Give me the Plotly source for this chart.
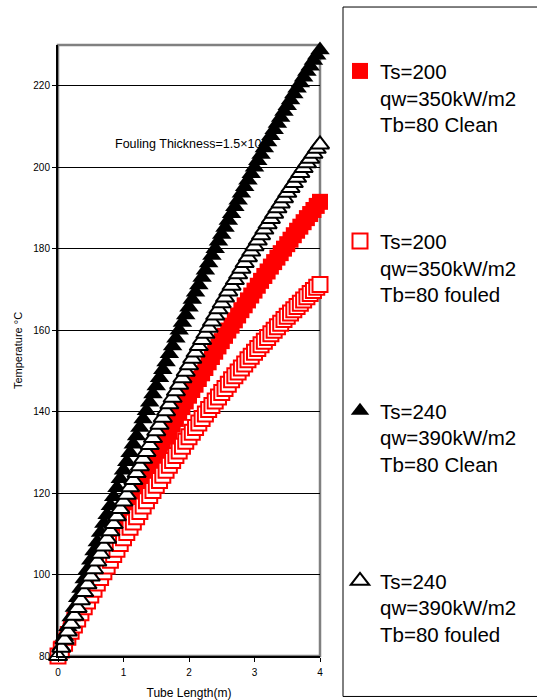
import plotly.graph_objects as go

# Tube length positions (m), 0 to 4 in 0.05 m steps
tube_length = [round(i * 0.05, 2) for i in range(81)]

ts200_clean = [80.0, 81.8, 83.6, 85.4, 87.1, 88.9, 90.6, 92.4, 94.1, 95.8,
               97.5, 99.2, 100.9, 102.5, 104.2, 105.9, 107.5, 109.1, 110.8, 112.4,
               114.0, 115.6, 117.1, 118.7, 120.3, 121.8, 123.4, 124.9, 126.4, 127.9,
               129.4, 130.9, 132.4, 133.9, 135.3, 136.8, 138.2, 139.7, 141.1, 142.5,
               143.9, 145.3, 146.6, 148.0, 149.4, 150.7, 152.1, 153.4, 154.7, 156.0,
               157.3, 158.6, 159.9, 161.1, 162.4, 163.6, 164.9, 166.1, 167.3, 168.5,
               169.7, 170.9, 172.1, 173.3, 174.4, 175.6, 176.7, 177.8, 178.9, 180.0,
               181.1, 182.2, 183.3, 184.4, 185.4, 186.5, 187.5, 188.5, 189.5, 190.5,
               191.5]

ts200_fouled = [80.0, 81.5, 83.1, 84.6, 86.1, 87.6, 89.1, 90.6, 92.1, 93.5,
                95.0, 96.4, 97.9, 99.3, 100.7, 102.1, 103.5, 104.9, 106.2, 107.6,
                109.0, 110.3, 111.6, 112.9, 114.2, 115.5, 116.8, 118.1, 119.4, 120.6,
                121.9, 123.1, 124.4, 125.6, 126.8, 128.0, 129.2, 130.3, 131.5, 132.7,
                133.8, 134.9, 136.1, 137.2, 138.3, 139.4, 140.5, 141.5, 142.6, 143.6,
                144.7, 145.7, 146.7, 147.8, 148.8, 149.7, 150.7, 151.7, 152.7, 153.6,
                154.6, 155.5, 156.4, 157.3, 158.2, 159.1, 160.0, 160.8, 161.7, 162.6,
                163.4, 164.2, 165.0, 165.8, 166.6, 167.4, 168.2, 169.0, 169.7, 170.5,
                171.2]

ts240_clean = [80.0, 82.4, 84.8, 87.2, 89.6, 91.9, 94.3, 96.6, 98.9, 101.2,
               103.5, 105.8, 108.0, 110.3, 112.5, 114.7, 116.9, 119.1, 121.3, 123.5,
               125.6, 127.7, 129.9, 132.0, 134.0, 136.1, 138.2, 140.2, 142.3, 144.3,
               146.3, 148.3, 150.3, 152.2, 154.2, 156.1, 158.0, 160.0, 161.9, 163.7,
               165.6, 167.5, 169.3, 171.1, 172.9, 174.7, 176.5, 178.3, 180.0, 181.8,
               183.5, 185.2, 186.9, 188.6, 190.3, 191.9, 193.6, 195.2, 196.8, 198.4,
               200.0, 201.6, 203.1, 204.7, 206.2, 207.7, 209.2, 210.7, 212.2, 213.7,
               215.1, 216.5, 218.0, 219.4, 220.7, 222.1, 223.5, 224.8, 226.2, 227.5,
               228.8]

ts240_fouled = [80.0, 82.0, 84.0, 86.0, 87.9, 89.9, 91.8, 93.7, 95.7, 97.6,
                99.5, 101.3, 103.2, 105.1, 106.9, 108.8, 110.6, 112.4, 114.3, 116.1,
                117.9, 119.6, 121.4, 123.2, 124.9, 126.6, 128.4, 130.1, 131.8, 133.5,
                135.2, 136.8, 138.5, 140.1, 141.8, 143.4, 145.0, 146.6, 148.2, 149.8,
                151.4, 153.0, 154.5, 156.1, 157.6, 159.1, 160.6, 162.1, 163.6, 165.1,
                166.6, 168.0, 169.5, 170.9, 172.3, 173.7, 175.1, 176.5, 177.9, 179.3,
                180.6, 182.0, 183.3, 184.7, 186.0, 187.3, 188.6, 189.9, 191.1, 192.4,
                193.7, 194.9, 196.1, 197.4, 198.6, 199.8, 201.0, 202.1, 203.3, 204.5,
                205.6]

series_names = [
    "Ts=200<br>qw=350kW/m2<br>Tb=80 Clean",
    "Ts=200<br>qw=350kW/m2<br>Tb=80 fouled",
    "Ts=240<br>qw=390kW/m2<br>Tb=80 Clean",
    "Ts=240<br>qw=390kW/m2<br>Tb=80 fouled",
]

x_ticks = [0, 1, 2, 3, 4]
y_ticks = [80, 100, 120, 140, 160, 180, 200, 220]

FONT = "Arial, 'Liberation Sans', sans-serif"

fig = go.Figure()

fig.add_trace(go.Scatter(
    x=tube_length, y=ts200_clean, mode="markers", name=series_names[0],
    legendgroup="a", cliponaxis=False,
    marker=dict(symbol="square", size=16, color="#ff0000", line=dict(width=0)),
))
fig.add_trace(go.Scatter(
    x=tube_length, y=ts200_fouled, mode="markers", name=series_names[1],
    legendgroup="b", cliponaxis=False,
    marker=dict(symbol="square", size=15, color="#ffffff",
                line=dict(width=2, color="#ff0000")),
))
fig.add_trace(go.Scatter(
    x=tube_length, y=ts240_clean, mode="markers", name=series_names[2],
    legendgroup="c", cliponaxis=False,
    marker=dict(symbol="triangle-up", size=17, color="#000000", line=dict(width=0)),
))
fig.add_trace(go.Scatter(
    x=tube_length, y=ts240_fouled, mode="markers", name=series_names[3],
    legendgroup="d", cliponaxis=False,
    marker=dict(symbol="triangle-up", size=16, color="#ffffff",
                line=dict(width=2, color="#000000")),
))

# plot frame (grey top/right) and legend box
fig.add_shape(type="rect", xref="paper", yref="paper", x0=0, x1=1, y0=0, y1=1,
              line=dict(color="#808080", width=2.5), layer="below")
fig.add_shape(type="rect", xref="paper", yref="paper",
              x0=(343 - 58) / 262, x1=(545 - 58) / 262,
              y0=(656.5 - 697) / 611.5, y1=(656.5 - 7) / 611.5,
              line=dict(color="#000000", width=1), layer="below")

fig.add_annotation(
    x=0.84, y=206, xref="x", yref="y", xanchor="left", yanchor="middle",
    text="Fouling Thickness=1.5×10<sup>-5</sup>", showarrow=False,
    font=dict(family=FONT, size=12.5, color="#000000"),
)

fig.update_layout(
    width=537, height=700,
    margin=dict(l=58, r=217, t=45, b=43.5, autoexpand=False),
    paper_bgcolor="white", plot_bgcolor="white",
    font=dict(family=FONT, color="#000000"),
    showlegend=True,
    legend=dict(
        x=(340 - 58) / 262, xanchor="left",
        y=0.990, yanchor="top",
        bgcolor="rgba(0,0,0,0)", borderwidth=0,
        font=dict(family=FONT, size=20.5, color="#000000"),
        tracegroupgap=87, valign="top", maxheight=690,
    ),
    xaxis=dict(
        range=[0, 4], tickvals=x_ticks, ticks="outside", ticklen=4,
        tickcolor="#000000", showgrid=False, zeroline=False,
        showline=True, linecolor="#000000", linewidth=2,
        ticklabelstandoff=2, automargin=False,
        tickfont=dict(size=10), title=dict(text="Tube Length(m)",
        font=dict(size=12), standoff=13),
    ),
    yaxis=dict(
        range=[80, 230], tickvals=y_ticks, ticks="outside", ticklen=4,
        tickcolor="#000000", showgrid=True, gridcolor="#000000", gridwidth=1,
        zeroline=False, showline=True, linecolor="#000000", linewidth=2,
        automargin=False,
        tickfont=dict(size=10), title=dict(text="Temperature °C",
        font=dict(size=11), standoff=8),
    ),
)

fig.write_html("out.html", config={"displayModeBar": False})
